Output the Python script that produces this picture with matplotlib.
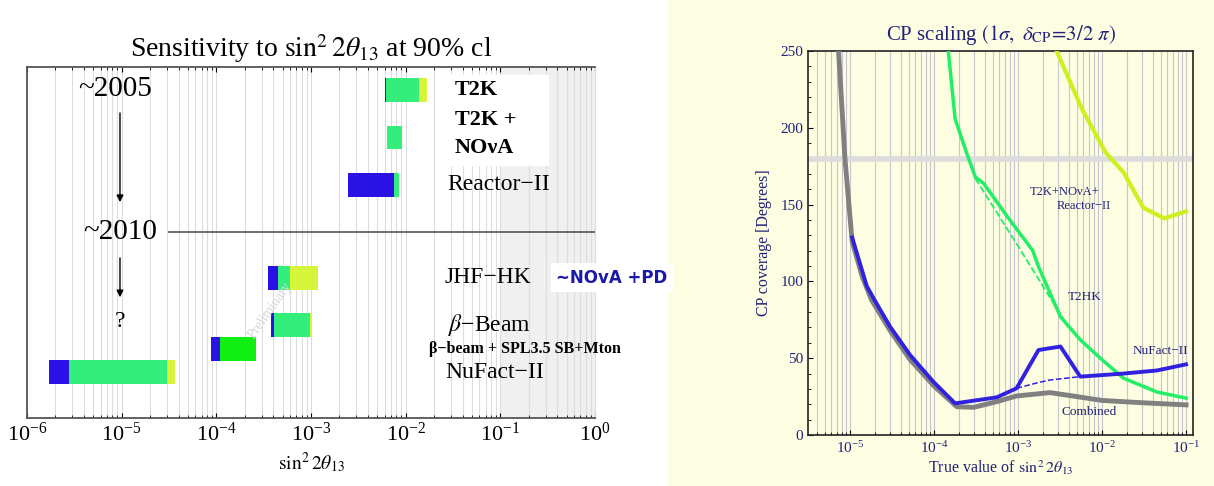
import matplotlib
matplotlib.use("Agg")
import matplotlib.pyplot as plt
from matplotlib.patches import Rectangle

plt.rcParams['font.family'] = ['Liberation Serif', 'DejaVu Serif']
plt.rcParams['mathtext.fontset'] = 'stix'

# ---- left panel: sensitivity bars ----
experiments = ['T2K', 'T2K+NOvA', 'Reactor-II', 'JHF-HK', 'beta-Beam', 'SPL', 'NuFact-II']
rows = [9.34, 7.99, 6.64, 3.99, 2.65, 1.97, 1.31]
# segment edges: start, end of blue, end of green, end of yellow
edges = [
    [6.0e-3, 6.15e-3, 1.39e-2, 1.67e-2],
    [6.4e-3, 6.4e-3, 9.1e-3, 9.1e-3],
    [2.48e-3, 7.5e-3, 8.5e-3, 8.5e-3],
    [3.5e-4, 4.5e-4, 6.0e-4, 1.19e-3],
    [3.8e-4, 4.1e-4, 9.8e-4, 1.02e-3],
    [8.8e-5, 1.09e-4, 2.6e-4, 2.6e-4],
    [1.7e-6, 2.8e-6, 3.0e-5, 3.66e-5],
]
green_cols = ['#33ee7a', '#33ee7a', '#33ee7a', '#33ee7a', '#33ee7a', '#11ee11', '#33ee7a']
blue_col = '#2a12e6'
yellow_col = '#d6f53a'

# ---- right panel: CP coverage curves ----
comb_x = [7.3e-6, 8.7e-6, 9.7e-6, 1.06e-5, 1.4e-5, 1.8e-5, 3e-5, 5.2e-5, 1.02e-4, 1.87e-4,
          2.96e-4, 5.57e-4, 9.6e-4, 2.4e-3, 5e-3, 1e-2, 3e-2, 1e-1]
comb_y = [250, 180, 150, 126, 103, 88, 68, 49, 31.4, 18.4, 18, 21.7, 25.4, 27.6, 25, 22.5,
          21, 19.6]
nuf_x = [1.06e-5, 1.58e-5, 2e-5, 3e-5, 5.2e-5, 9.8e-5, 1.78e-4, 5.57e-4, 9.6e-4, 1.75e-3,
         3.2e-3, 5.5e-3, 1.8e-2, 4.5e-2, 1e-1]
nuf_y = [128.6, 97, 87, 70.5, 52, 34.7, 20.6, 24.5, 30.4, 55.3, 57.6, 38, 40, 42, 46]
nuf_dash_x = [9.6e-4, 1.7e-3, 2.4e-3, 5.5e-3]
nuf_dash_y = [30.4, 34, 35.8, 38]
t2hk_x = [1.48e-4, 1.78e-4, 2.45e-4, 3.1e-4, 3.9e-4, 7.5e-4, 1.5e-3, 1.74e-3, 3.2e-3, 5.5e-3,
          1e-2, 1.8e-2, 4.5e-2, 1e-1]
t2hk_y = [250, 206, 183.4, 168, 163.8, 142, 120, 110, 77, 62, 49, 37, 28, 24]
t2hk_dash_x = [3.1e-4, 1e-3, 4e-3]
t2hk_dash_y = [167, 123, 70]
comb3_x = [2.88e-3, 5.8e-3, 1.1e-2, 1.8e-2, 3.1e-2, 5.5e-2, 1e-1]
comb3_y = [250, 212, 184, 171, 148, 141, 145.6]

W, H = 1214, 486
fig = plt.figure(figsize=(W / 100, H / 100), dpi=100)
fig.patches.append(Rectangle((668 / W, 0), 1 - 668 / W, 1, transform=fig.transFigure,
                             color='#fdfde2', zorder=-5))

# left axes
ax1 = fig.add_axes([27 / W, 1 - 418 / H, (595 - 27) / W, (418 - 67) / H])
ax1.set_xscale('log')
ax1.set_xlim(1e-6, 1)
ax1.set_ylim(0, 10)
ax1.set_yticks([])
ax1.grid(which='both', axis='x', color='#dddddd', lw=0.8)
ax1.set_axisbelow(True)
ax1.axvspan(0.1, 1, color='#f0f0f0', zorder=0)
ax1.tick_params(which='both', top=True, direction='in', labelsize=16)
for s in ['left', 'bottom', 'top']:
    ax1.spines[s].set_color('#555555')
    ax1.spines[s].set_linewidth(1.3)
ax1.spines['right'].set_color('#dddddd')

bh = 0.665
for i, (y, e) in enumerate(zip(rows, edges)):
    ax1.barh(y, e[1] - e[0], left=e[0], height=bh, color=blue_col, lw=0)
    ax1.barh(y, e[2] - e[1], left=e[1], height=bh, color=green_cols[i], lw=0)
    ax1.barh(y, e[3] - e[2], left=e[2], height=bh, color=yellow_col, lw=0)

ax1.plot([3.2e-5, 1], [5.30, 5.30], color='#555555', lw=1.2)
ax1.text(8.5e-6, 9.37, '~2005', fontsize=21, ha='center', va='center')
ax1.text(9.6e-6, 5.30, '~2010', fontsize=21, ha='center', va='center')
ax1.annotate('', xy=(9.6e-6, 6.07), xytext=(9.6e-6, 8.77),
             arrowprops=dict(arrowstyle='-|>', color='black', lw=1))
ax1.annotate('', xy=(9.6e-6, 3.36), xytext=(9.6e-6, 4.64),
             arrowprops=dict(arrowstyle='-|>', color='black', lw=1))
ax1.text(9.6e-6, 2.74, '?', fontsize=17, ha='center', va='center')

ax1.add_patch(Rectangle((0.0231, 7.21), 0.295, 2.56, color='white', zorder=2))
ax1.text(0.0332, 9.34, 'T2K', fontsize=16, fontweight='bold', va='center', zorder=3)
ax1.text(0.0332, 8.49, 'T2K +', fontsize=16, fontweight='bold', va='center', zorder=3)
ax1.text(0.0332, 7.69, 'NO\u03bdA', fontsize=16, fontweight='bold', va='center', zorder=3)
ax1.text(0.0279, 6.64, 'Reactor\u2212II', fontsize=17, va='center')
ax1.text(0.026, 3.99, 'JHF\u2212HK', fontsize=17, va='center')
ax1.text(1.51, 3.99, '~NOvA +PD', fontsize=12, fontweight='bold', color='#1a1aa8',
         family='DejaVu Sans', ha='center', va='center',
         bbox=dict(facecolor='white', edgecolor='none', pad=4))
ax1.text(0.0279, 2.65, '$\\beta$\u2212Beam', fontsize=17, va='center')
ax1.text(0.0178, 1.97, '\u03b2\u2212beam + SPL3.5 SB+Mton', fontsize=11.5,
         fontweight='bold', va='center')
ax1.text(0.026, 1.31, 'NuFact\u2212II', fontsize=17, va='center')
ax1.text(3.7e-4, 3.08, 'Preliminary', fontsize=10, color='#d8d8d8', rotation=55,
         ha='center', va='center')

ax1.set_title('Sensitivity to $\\sin^2 2\\theta_{13}$ at 90% cl', fontsize=20, pad=7)
ax1.set_xlabel('$\\sin^2 2\\theta_{13}$', fontsize=14, labelpad=3)

# right axes
navy = '#22227a'
ax2 = fig.add_axes([808 / W, 1 - 435 / H, (1193 - 808) / W, (435 - 51) / H])
ax2.set_facecolor('#fdfde2')
ax2.set_xscale('log')
ax2.set_xlim(3.16e-6, 0.121)
ax2.set_ylim(0, 250)
ax2.set_yticks([0, 50, 100, 150, 200, 250])
ax2.set_yticks(range(0, 251, 10), minor=True)
ax2.grid(which='both', axis='x', color='#c6c6cc', lw=0.8)
ax2.set_axisbelow(True)
ax2.tick_params(which='both', direction='in', colors='black', labelcolor=navy, labelsize=11)
for s in ax2.spines.values():
    s.set_linewidth(1.2)
    s.set_color('#222222')

ax2.axhline(180, color='#dcdcdc', lw=4, zorder=1)
ax2.plot(comb3_x, comb3_y, color='#ccf020', lw=3, zorder=3)
ax2.plot(t2hk_x, t2hk_y, color='#22ee66', lw=2.5, zorder=3)
ax2.plot(t2hk_dash_x, t2hk_dash_y, color='#22ee66', lw=1.3, ls='--', zorder=3)
ax2.plot(comb_x, comb_y, color='#808080', lw=3.5, zorder=3)
ax2.plot(nuf_x, nuf_y, color='#3020e0', lw=2.8, zorder=4)
ax2.plot(nuf_dash_x, nuf_dash_y, color='#3020e0', lw=1.1, ls='--', zorder=4)

ax2.text(3.6e-3, 158, 'T2K+NO\u03bdA+', fontsize=9, color=navy, ha='center', va='center')
ax2.text(6.0e-3, 149, 'Reactor\u2212II', fontsize=9, color=navy, ha='center', va='center')
ax2.text(6.3e-3, 90, 'T2HK', fontsize=9.5, color=navy, ha='center', va='center')
ax2.text(5.0e-2, 55, 'NuFact\u2212II', fontsize=9.5, color=navy, ha='center', va='center')
ax2.text(7.0e-3, 15, 'Combined', fontsize=9.5, color=navy, ha='center', va='center')

ax2.set_title('CP scaling $(1\\sigma,\\ \\delta_{\\rm CP}\\!=\\!3/2\\ \\pi)$', fontsize=15,
              color=navy, pad=8)
ax2.set_xlabel('True value of $\\sin^2 2\\theta_{13}$', fontsize=11.5, color=navy, labelpad=2)
ax2.set_ylabel('CP coverage [Degrees]', fontsize=11.5, color=navy, labelpad=6)

fig.savefig('out.png', dpi=100)
